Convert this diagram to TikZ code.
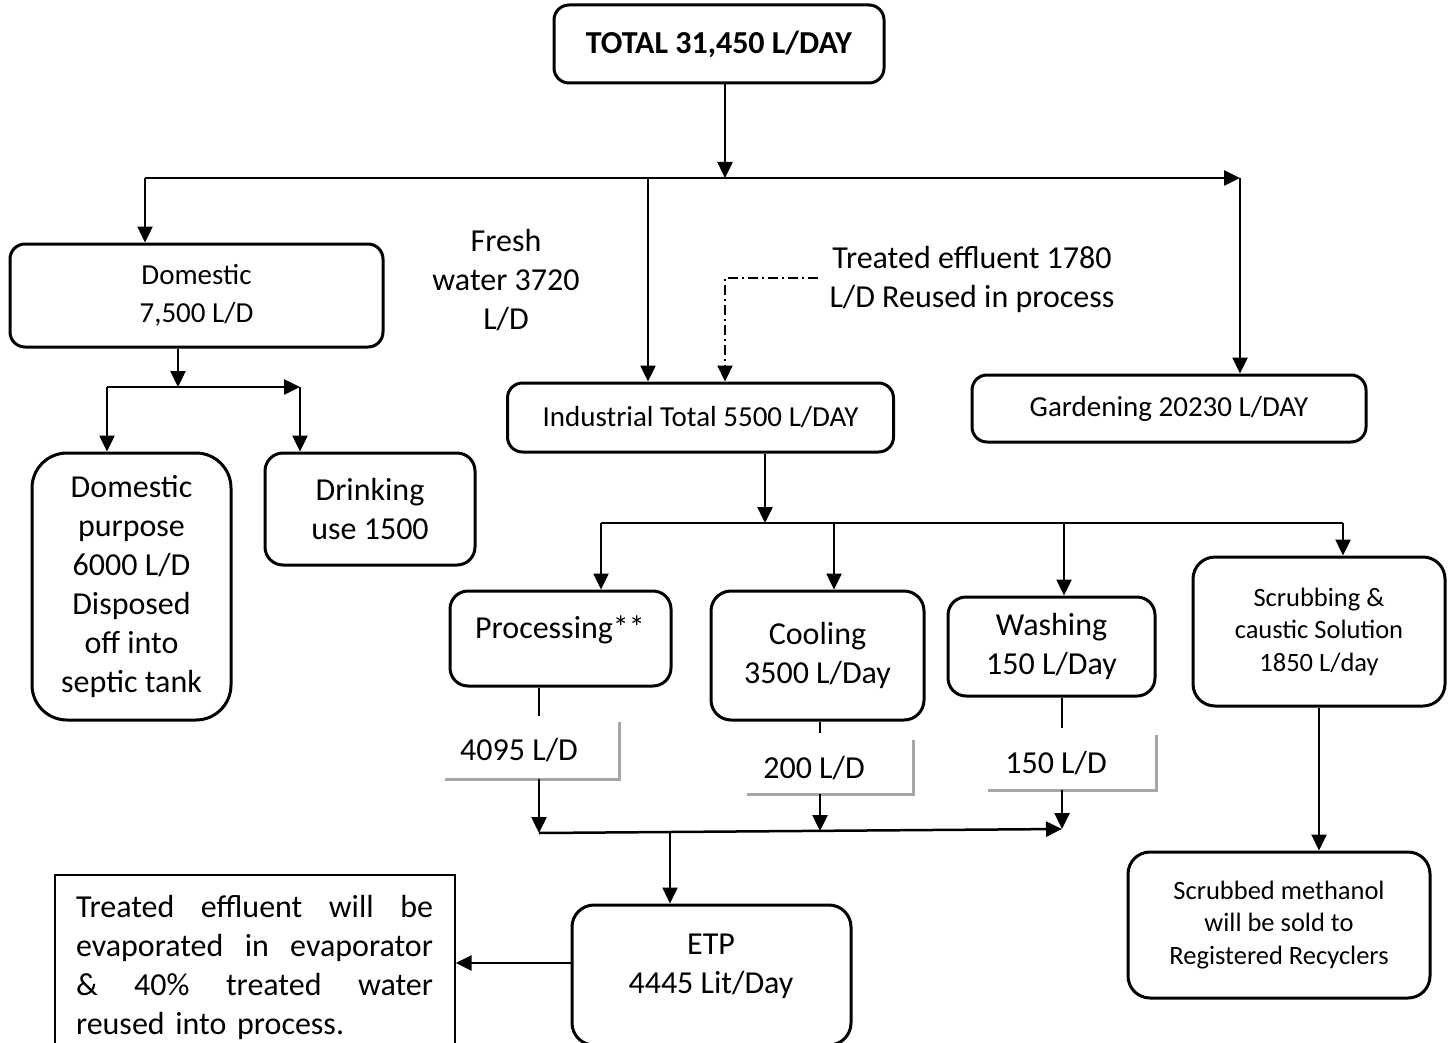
\documentclass[tikz,border=0pt]{standalone}
\usepackage{fontspec}
\setmainfont{Carlito}
\usetikzlibrary{arrows.meta}
\begin{document}
\begin{tikzpicture}[x=1pt,y=-1pt,
  box/.style={draw, line width=3pt, rounded corners=#1, inner sep=0pt, align=center},
  box/.default=15pt,
  bigb/.style={font=\fontsize{32}{39}\selectfont\bfseries},
  big/.style={font=\fontsize{32}{39}\selectfont},
  mid/.style={font=\fontsize{29}{38}\selectfont},
  sml/.style={font=\fontsize{26.5}{32.5}\selectfont},
  txt/.style={align=center, inner sep=0pt},
  conn/.style={line width=2.5pt},
  arr/.style={conn, -{Triangle[length=16pt,width=15pt]}},
  dd/.style={line width=2.2pt, dash pattern=on 10pt off 4pt on 2pt off 4pt, -{Triangle[length=16pt,width=15pt]}},
  labbox/.style={draw=none, inner sep=0pt},
  grayln/.style={draw=black!35, line width=3pt},
  note/.style={draw, line width=1.3pt, inner sep=0pt}
]
\clip (0,0) rectangle (1455,1043);
\fill[white] (0,0) rectangle (1455,1043);

% boxes
\node[box, bigb, minimum width=330pt, minimum height=78pt] (total) at (719,44) {TOTAL 31,450 L/DAY};
\node[box, mid, minimum width=373pt, minimum height=103pt] (dom) at (196.5,295.5) {Domestic\\7,500 L/D};
\node[box=35pt, big, minimum width=199pt, minimum height=267pt] (dompur) at (131.5,586.5) {Domestic\\purpose\\6000 L/D\\Disposed\\off into\\septic tank};
\node[box=18pt, big, minimum width=210pt, minimum height=112pt] (drink) at (370,509) {Drinking\\use 1500};
\node[txt, big] (fresh) at (506,280) {Fresh\\water 3720\\L/D};
\node[txt, big] (trlab) at (972,279) {Treated effluent 1780\\L/D Reused in process};
\node[box, mid, minimum width=386pt, minimum height=69pt] (ind) at (700.5,417.5) {Industrial Total 5500 L/DAY};
\node[box, mid, minimum width=394pt, minimum height=67pt] (gard) at (1169,408.5) {Gardening 20230 L/DAY};
\node[box=18pt, minimum width=221pt, minimum height=95pt] (proc) at (560.5,638.5) {};
\node[txt, big] (proctxt) at (560,630) {Processing**};
\node[box=20pt, big, minimum width=213pt, minimum height=129pt] (cool) at (817.5,655.5) {Cooling\\3500 L/Day};
\node[box=18pt, big, minimum width=207pt, minimum height=99pt] (wash) at (1051.5,646.5) {Washing\\150 L/Day};
\node[box=22pt, sml, minimum width=252pt, minimum height=149pt] (scrub) at (1319,631.5) {Scrubbing \&\\caustic Solution\\1850 L/day};
\node[box=22pt, sml, minimum width=302pt, minimum height=146pt] (meth) at (1279,925) {Scrubbed methanol\\will be sold to\\Registered Recyclers};
\node[box=22pt, minimum width=279pt, minimum height=140pt] (etp) at (711.5,975) {};
\node[txt, big] (etptxt) at (711,966) {ETP\\4445 Lit/Day};
\node[note, minimum width=400pt, minimum height=185pt] (note) at (255,967.5) {};
\node[txt, big, text width=357pt, align=left] (notetxt) at (254.5,967)
  {\makebox[357pt][s]{Treated\hfill effluent\hfill will\hfill be}\\
   \makebox[357pt][s]{evaporated\hfill in\hfill evaporator}\\
   \makebox[357pt][s]{\&\hfill 40\%\hfill treated\hfill water}\\
   reused into process.};

% gray label boxes
\node[labbox, minimum width=174pt, minimum height=57pt] (lab1) at (532,750.5) {};
\node[labbox, minimum width=166pt, minimum height=54pt] (lab2) at (830,767) {};
\node[labbox, minimum width=168pt, minimum height=55pt] (lab3) at (1072,762.5) {};
\draw[grayln] (lab1.north east) -- (lab1.south east) -- (lab1.south west);
\draw[grayln] (lab2.north east) -- (lab2.south east) -- (lab2.south west);
\draw[grayln] (lab3.north east) -- (lab3.south east) -- (lab3.south west);
\node[txt, big] (lab1txt) at (519,750) {4095 L/D};
\node[txt, big] (lab2txt) at (814,768) {200 L/D};
\node[txt, big] (lab3txt) at (1056,763) {150 L/D};

% coordinates
\coordinate (j0) at (725,178);
\coordinate (bL) at (145,178);
\coordinate (bI) at (648,178);
\coordinate (bR) at (1240,178);
\coordinate (d0) at (178,387);
\coordinate (dL) at (107,387);
\coordinate (dR) at (300,387);
\coordinate (tr) at (818,278);
\coordinate (trc) at (725,278);
\coordinate (i0) at (765,523);
\coordinate (iL) at (601,523);
\coordinate (iC) at (834,523);
\coordinate (iW) at (1064,523);
\coordinate (iR) at (1343,523);
\coordinate (p1) at (539,716);
\coordinate (p2) at (820,733);
\coordinate (p3) at (1062,728);
\coordinate (cL) at (539,833);
\coordinate (c2) at (820,831);
\coordinate (cR) at (1062,829);
\coordinate (c0) at (670,831);
\coordinate (e0) at (572,963);

% connectors
\draw[arr] (total.south -| j0) -- (j0);
\draw[arr] (bL) -- (bR);
\draw[arr] (bL) -- (bL |- dom.north);
\draw[arr] (bI) -- (bI |- ind.north);
\draw[arr] (bR) -- (bR |- gard.north);

\draw[arr] (dom.south -| d0) -- (d0);
\draw[arr] (dL) -- (dR);
\draw[arr] (dL) -- (dL |- dompur.north);
\draw[arr] (dR) -- (dR |- drink.north);

\draw[dd] (tr) -- (trc) -- (trc |- ind.north);

\draw[arr] (ind.south -| i0) -- (i0);
\draw[conn] (iL) -- (iR);
\draw[arr] (iL) -- (iL |- proc.north);
\draw[arr] (iC) -- (iC |- cool.north);
\draw[arr] (iW) -- (iW |- wash.north);
\draw[arr] (iR) -- (iR |- scrub.north);

\draw[conn] (proc.south -| p1) -- (p1);
\draw[conn] (cool.south -| p2) -- (p2);
\draw[conn] (wash.south -| p3) -- (p3);
\draw[arr] (lab1.south -| cL) -- (cL);
\draw[arr] (lab2.south -| c2) -- (c2);
\draw[arr] (lab3.south -| cR) -- (cR);
\draw[arr] (cL) -- (cR);
\draw[arr] (c0) -- (c0 |- etp.north);
\draw[arr] (e0) -- (note.east |- e0);
\draw[arr] (scrub.south) -- (scrub.south |- meth.north);
\end{tikzpicture}
\end{document}
